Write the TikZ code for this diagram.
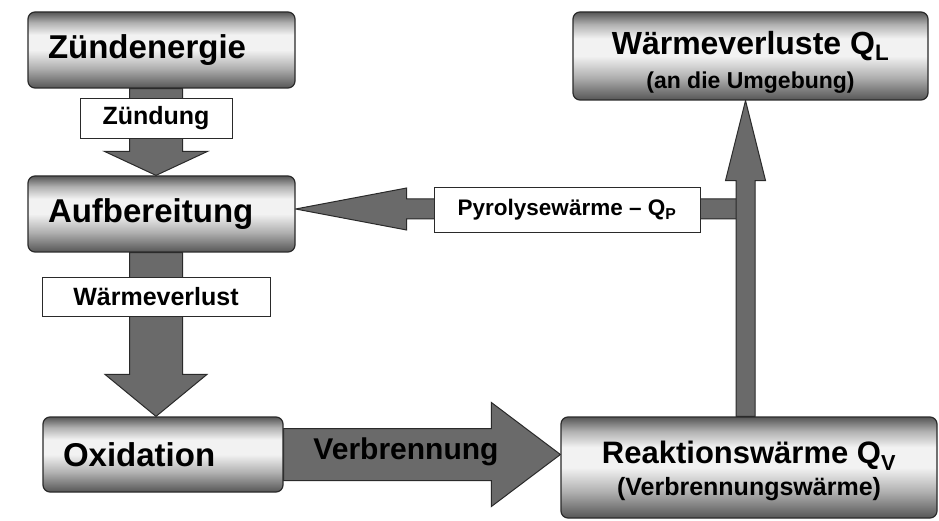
\documentclass[tikz,border=0pt]{standalone}
\usepackage{fontspec}
\setmainfont{Liberation Sans}
\usetikzlibrary{calc,backgrounds}
\definecolor{boxdark}{HTML}{565656}
\definecolor{boxmid}{HTML}{B0B0B0}
\definecolor{boxlight}{HTML}{F2F2F2}
\definecolor{arrowgray}{HTML}{6A6A6A}
\definecolor{edgegray}{HTML}{2A2A2A}
\pgfdeclareverticalshading{metal}{100bp}{color(0bp)=(boxdark); color(25bp)=(boxdark); color(38bp)=(boxmid); color(50bp)=(boxlight); color(60bp)=(boxlight); color(68bp)=(boxmid); color(75bp)=(boxdark); color(100bp)=(boxdark)}
\tikzset{
  stage/.style={draw=edgegray, line width=1.2pt, rounded corners=7pt, shading=metal,
    font=\bfseries\fontsize{33}{38}\selectfont, align=left, inner xsep=20pt, inner ysep=0pt},
  result/.style={stage, align=center, inner xsep=0pt},
  tag/.style={draw=edgegray, line width=0.8pt, fill=white, inner sep=0pt,
    font=\bfseries\fontsize{25}{28}\selectfont},
  fatarrow/.style={draw=edgegray, line width=1pt, fill=arrowgray},
}
\begin{document}
\begin{tikzpicture}[x=1pt, y=-1pt]
\useasboundingbox (0,0) rectangle (939,521);
\node[stage, text width=227pt, minimum height=76pt] (zuend) at (161.5,50) {Zündenergie};
\node[stage, text width=227pt, minimum height=76pt] (aufb) at (161.5,214) {Aufbereitung};
\node[stage, text width=200pt, minimum height=75pt] (oxid) at (163,454.5) {Oxidation};
\node[result, minimum width=355pt, minimum height=88pt] (verluste) at (750.5,56)
  {\fontsize{32}{34}\selectfont\rule{0pt}{35pt}Wärmeverluste Q\textsubscript{L}\\[-4pt]
   \fontsize{23}{26}\selectfont (an die Umgebung)};
\node[result, minimum width=376pt, minimum height=101pt] (reakt) at (749,467.5)
  {\fontsize{31}{34}\selectfont\rule{0pt}{30pt}Reaktionswärme Q\textsubscript{V}\\[-6pt]
   \fontsize{25}{28}\selectfont (Verbrennungswärme)};
\node[tag, minimum width=152pt, minimum height=40pt] (zuendung) at (156,118) {Zündung};
\node[tag, minimum width=228pt, minimum height=39pt] (verlust) at (156,296.5) {Wärmeverlust};
\node[tag, minimum width=266pt, minimum height=45pt, font=\bfseries\fontsize{22.5}{26}\selectfont] (pyro) at (567,209.5) {Pyrolysewärme – Q\textsubscript{P}};
\node[font=\bfseries\fontsize{30}{34}\selectfont, text=black] (verbr) at (406,452) {Verbrennung};
\coordinate (riser) at ($(reakt.north)+(-3.5,0)$);
\coordinate (pyrotip) at ($(aufb.east)+(0,-5)$);
\begin{pgfonlayer}{background}
% Zündenergie -> Aufbereitung
\draw[fatarrow] ($(zuendung |- zuend.south)+(-26.5,0)$) -- ($(zuendung |- aufb.north)+(-26.5,-24)$) -- ++(-25,0) -- (zuendung |- aufb.north) -- ++(51.5,-24) -- ++(-25,0) -- ($(zuendung |- zuend.south)+(26.5,0)$) -- cycle;
% Aufbereitung -> Oxidation
\draw[fatarrow] ($(verlust |- aufb.south)+(-26.5,0)$) -- ($(verlust |- oxid.north)+(-26.5,-42)$) -- ++(-24.5,0) -- (verlust |- oxid.north) -- ++(51,-42) -- ++(-24.5,0) -- ($(verlust |- aufb.south)+(26.5,0)$) -- cycle;
% Oxidation -> Reaktionswärme
\draw[fatarrow] ($(oxid.east)+(0,-26)$) -- ($(reakt.west |- oxid.east)+(-69,-26)$) -- ++(0,-26) -- (reakt.west |- oxid.east) -- ++(-69,52) -- ++(0,-26) -- ($(oxid.east)+(0,26)$) -- cycle;
% Pyrolysewärme back to Aufbereitung
\draw[fatarrow] ($(riser |- pyrotip)+(0,-10)$) -- ($(pyrotip)+(111,-10)$) -- ++(0,-11) -- (pyrotip) -- ++(111,21) -- ++(0,-11) -- ($(riser |- pyrotip)+(0,10)$) -- cycle;
% Reaktionswärme -> Wärmeverluste
\draw[fatarrow] ($(riser)+(-9.5,0)$) -- ($(riser |- verluste.south)+(-9.5,80)$) -- ++(-10.5,0) -- (riser |- verluste.south) -- ++(20,80) -- ++(-10.5,0) -- ($(riser)+(9.5,0)$) -- cycle;
\end{pgfonlayer}
\end{tikzpicture}
\end{document}
